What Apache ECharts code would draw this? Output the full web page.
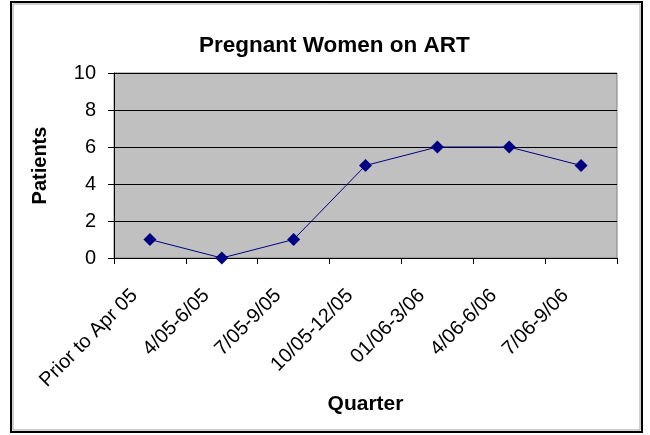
<!DOCTYPE html>
<html>
<head>
<meta charset="utf-8">
<script src="https://cdn.jsdelivr.net/npm/echarts@6/dist/echarts.min.js"></script>
<style>
  html, body { margin: 0; padding: 0; background: #fff; }
  #chart { width: 650px; height: 435px; }
</style>
</head>
<body>
<div id="chart"></div>
<script>
const quarters = ["Prior to Apr 05", "4/05-6/05", "7/05-9/05", "10/05-12/05", "01/06-3/06", "4/06-6/06", "7/06-9/06"];
const patients = [1, 0, 1, 5, 6, 6, 5];

const font = "'Liberation Sans', Arial, sans-serif";
const chart = echarts.init(document.getElementById("chart"));

chart.setOption({
  animation: false,
  textStyle: { fontFamily: font },
  title: {
    text: "Pregnant Women on ART",
    left: 194,
    top: 29,
    textStyle: { fontFamily: font, fontSize: 22.5, fontWeight: "bold", color: "#000" }
  },
  graphic: [
    {
      type: "rect",
      shape: { x: 11, y: 2, width: 631, height: 430 },
      style: { fill: "none", stroke: "#000", lineWidth: 2 }
    },
    {
      type: "rect",
      shape: { x: 13, y: 4, width: 627, height: 426 },
      style: { fill: "none", stroke: "#a0a0a0", lineWidth: 1 }
    }
  ],
  grid: {
    left: 114,
    right: 33,
    top: 73,
    bottom: 177,
    show: true,
    backgroundColor: "#C0C0C0",
    borderColor: "#808080",
    borderWidth: 1,
    outerBoundsMode: "none"
  },
  xAxis: {
    type: "category",
    data: quarters,
    boundaryGap: true,
    name: "Quarter",
    nameLocation: "middle",
    nameGap: 135,
    nameTextStyle: { fontFamily: font, fontSize: 21, fontWeight: "bold", color: "#000" },
    axisLine: { lineStyle: { color: "#000", width: 1 } },
    axisTick: { show: true, length: 6, lineStyle: { color: "#000" } },
    axisLabel: {
      rotate: 45,
      interval: 0,
      margin: 19,
      padding: [0, 22, 0, 0],
      fontFamily: font,
      fontSize: 20,
      color: "#000"
    }
  },
  yAxis: {
    type: "value",
    min: 0,
    max: 10,
    interval: 2,
    name: "Patients",
    nameLocation: "middle",
    nameRotate: 90,
    nameGap: 64,
    nameTextStyle: { fontFamily: font, fontSize: 20, fontWeight: "bold", color: "#000" },
    axisLine: { show: true, lineStyle: { color: "#000", width: 1 } },
    axisTick: { show: true, length: 6, lineStyle: { color: "#000" } },
    axisLabel: { margin: 18, fontFamily: font, fontSize: 20, color: "#000" },
    splitLine: { show: true, lineStyle: { color: "#000", width: 1 } }
  },
  series: [
    {
      type: "line",
      data: patients,
      symbol: "diamond",
      symbolSize: 13,
      lineStyle: { color: "#000080", width: 1 },
      itemStyle: { color: "#000080" }
    }
  ]
});
</script>
</body>
</html>
